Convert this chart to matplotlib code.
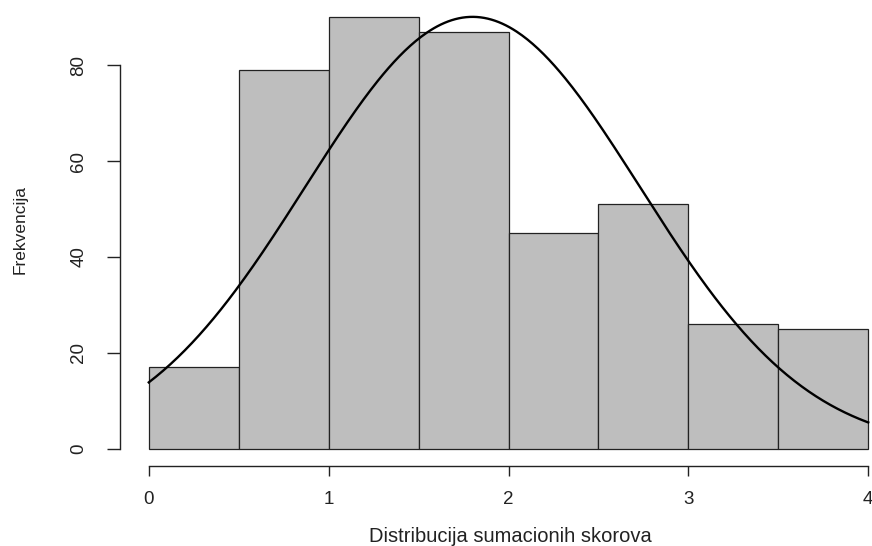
import numpy as np
import matplotlib
matplotlib.use("Agg")
import matplotlib.pyplot as plt

# histogram bins and counts
bin_edges = [0.0, 0.5, 1.0, 1.5, 2.0, 2.5, 3.0, 3.5, 4.0]
counts = [17, 79, 90, 87, 45, 51, 26, 25]

# fitted normal curve overlay (mean / sd)
curve_mean = 1.8
curve_sd = 0.93

x_ticks = [0, 1, 2, 3, 4]
y_ticks = [0, 20, 40, 60, 80]

BAR = "#BEBEBE"
plt.rcParams["font.family"] = ["Liberation Sans", "DejaVu Sans"]

W, H = 872, 546
fig = plt.figure(figsize=(W / 100, H / 100), dpi=100)
# plot region in pixels: left 120, right ~897 (past the edge), bottom 466
ax = fig.add_axes([120 / W, 80 / H, 777 / W, 466 / H])

widths = np.diff(bin_edges)
ax.bar(bin_edges[:-1], counts, width=widths, align="edge",
       color=BAR, edgecolor="#222222", linewidth=0.9)

n = sum(counts)
bw = widths[0]
xs = np.linspace(0, 4, 400)
ys = n * bw / (curve_sd * np.sqrt(2 * np.pi)) * np.exp(-(xs - curve_mean) ** 2 / (2 * curve_sd ** 2))
ax.plot(xs, ys, color="black", lw=1.7)

ax.set_xlim(-0.16, 4.16)
ax.set_ylim(-3.6, 93.6)

for s in ["top", "right"]:
    ax.spines[s].set_visible(False)
ax.spines["left"].set_bounds(0, 80)
ax.spines["bottom"].set_bounds(0, 4)
for s in ["left", "bottom"]:
    ax.spines[s].set_linewidth(1.0)
    ax.spines[s].set_color("#222222")

ax.set_xticks(x_ticks)
ax.set_xticklabels([str(v) for v in x_ticks])
ax.set_yticks(y_ticks)
ax.set_yticklabels([str(v) for v in y_ticks], rotation=90, va="center")
ax.tick_params(axis="x", length=7, width=1.0, pad=11, labelsize=13.5, colors="#222222")
ax.tick_params(axis="y", length=9.5, width=1.0, pad=14, labelsize=13.5, colors="#222222")

fig.text(510 / W, 1 - 537 / H, "Distribucija sumacionih skorova",
         ha="center", va="center", fontsize=14.5, color="#222222")
fig.text(20 / W, 1 - 229 / H, "Frekvencija", rotation=90,
         ha="center", va="center", fontsize=12.5, color="#222222")

fig.savefig("out.png", dpi=100)
